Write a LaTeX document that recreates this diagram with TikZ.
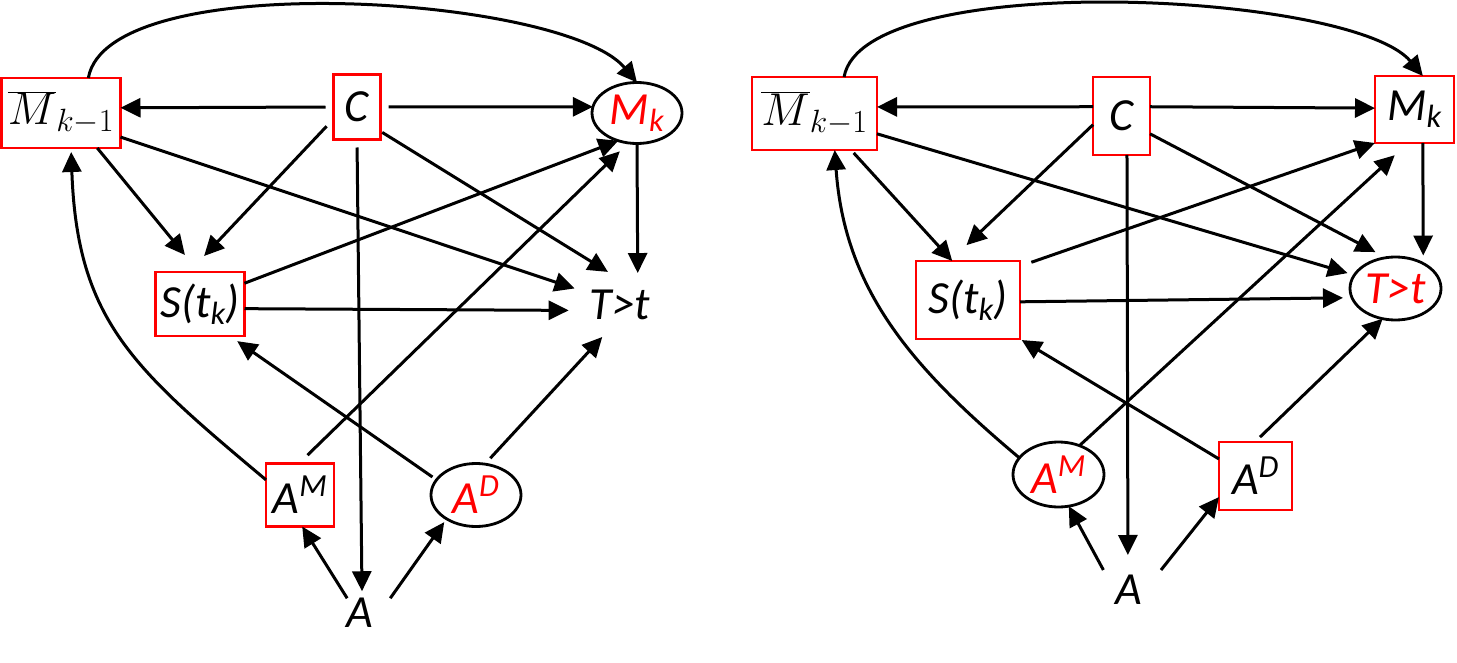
\documentclass[tikz,border=0pt]{standalone}
\usepackage{fix-cm}
\usepackage{fontspec}
\setmainfont{Carlito}
\usetikzlibrary{arrows.meta,shapes.geometric}

\tikzset{
  redbox/.style={draw=red, line width=2.8pt, rectangle, inner sep=0pt, outer sep=0pt},
  oval/.style={draw=black, line width=2.8pt, ellipse, inner sep=0pt, outer sep=0pt, text=red},
  bare/.style={inner sep=0pt, outer sep=0pt},
  arr/.style={-{Triangle[length=20pt,width=19pt]}, line width=3pt},
}

\begin{document}
\begin{tikzpicture}[x=1pt, y=1pt, font=\fontsize{46}{54}\selectfont\itshape]
\useasboundingbox (0,-663) rectangle (1457,0);

% left diagram
\node[redbox, minimum width=119pt, minimum height=70pt] (mbarL) at (61,-113) {$\overline{M}_{k-1}$};
\node[redbox, minimum width=47pt, minimum height=65pt] (cL) at (357,-107) {C};
\node[oval, minimum width=90pt, minimum height=61pt] (mkL) at (637,-113) {M\textsubscript{k}};
\node[redbox, minimum width=89pt, minimum height=64pt] (sL) at (200,-304) {S(t\textsubscript{k})};
\node[bare, ellipse, minimum width=104pt, minimum height=68pt] (tL) at (620,-305) {T>t};
\node[redbox, minimum width=68pt, minimum height=63pt] (amL) at (300,-495) {A\textsuperscript{M}};
\node[oval, minimum width=90pt, minimum height=63pt] (adL) at (476,-495) {A\textsuperscript{D}};
\node[bare, minimum width=70pt, minimum height=28pt] (aL) at (360,-613) {A};

\draw[arr, shorten <=8pt] (cL.west) -- (mbarL.5);
\draw[arr, shorten <=8pt] (cL.east) -- (mkL.172);
\draw[arr, shorten <=10pt, shorten >=22pt] (cL.207) -- (sL.109);
\draw[arr, shorten >=22pt] (mbarL.-44) -- (sL.92);
\draw[arr] (mbarL.-22.5) -- (tL.160);
\draw[arr, shorten <=2pt] (cL.-46) -- (tL.110);
\draw[arr] (sL.25) -- (mkL.236);
\draw[arr] (sL.-6) -- (tL.186);
\draw[arr] (mkL.south) -- (tL.61.4);
\draw[arr, shorten <=12pt, shorten >=12pt] (amL.92) -- (mkL.254);
\draw[arr, shorten <=5pt, shorten >=9pt] (adL.159) -- (sL.-47);
\draw[arr, shorten <=8pt] (adL.74) -- (tL.241);
\draw[arr, shorten <=8pt, shorten >=7pt] (cL.south) -- (aL.82);
\draw[arr] (aL.131) -- (amL.-86);
\draw[arr, shorten >=4pt] (aL.26) -- (adL.219);
\draw[arr, shorten >=4pt] (amL.156) to[out=140, in=-88, looseness=1.15] (mbarL.-74);
\draw[arr] (mbarL.52) to[out=80, in=130, looseness=0.53] (mkL.north);

% right diagram
\node[redbox, minimum width=125pt, minimum height=73pt] (mbarR) at (814.5,-113.5) {$\overline{M}_{k-1}$};
\node[redbox, minimum width=57pt, minimum height=78pt] (cR) at (1121.5,-116) {C};
\node[redbox, minimum width=79pt, minimum height=67pt] (mkR) at (1414.5,-109.5) {M\textsubscript{k}};
\node[redbox, minimum width=104pt, minimum height=78pt] (sR) at (968,-300) {S(t\textsubscript{k})};
\node[oval, minimum width=91pt, minimum height=63pt] (tR) at (1395.5,-288.5) {T>t};
\node[oval, minimum width=91pt, minimum height=65pt] (amR) at (1058.5,-474.5) {A\textsuperscript{M}};
\node[redbox, minimum width=73pt, minimum height=68pt] (adR) at (1255.5,-476) {A\textsuperscript{D}};
\node[bare, minimum width=70pt, minimum height=40pt] (aR) at (1129,-590) {A};

\draw[arr] (cR.162) -- (mbarR.6);
\draw[arr] (cR.18) -- (mkR.178);
\draw[arr, shorten >=23pt] (cR.197) -- (sR.115);
\draw[arr, shorten <=4pt] (mbarR.-45.5) -- (sR.112);
\draw[arr, shorten >=7pt] (mbarR.-18) -- (tR.162);
\draw[arr, shorten >=12pt] (cR.-32) -- (tR.107);
\draw[arr, shorten <=12pt] (sR.33) -- (mkR.south west);
\draw[arr, shorten >=9pt] (sR.-2) -- (tR.192);
\draw[arr, shorten >=8pt] (mkR.-76) -- (tR.42);
\draw[arr, shorten >=18pt] (amR.54) -- (mkR.259);
\draw[arr, shorten >=2pt] (adR.155) -- (sR.south east);
\draw[arr, shorten <=7pt] (adR.91) -- (tR.247);
\draw[arr, shorten >=15pt] (cR.-82) -- (aR.93);
\draw[arr] (aR.142) -- (amR.-72);
\draw[arr] (aR.32) -- (adR.210);
\draw[arr] (amR.157) to[out=140, in=-86] (mbarR.-61);
\draw[arr] (mbarR.51) to[out=80, in=130, looseness=0.49] (mkR.76);
\end{tikzpicture}
\end{document}
